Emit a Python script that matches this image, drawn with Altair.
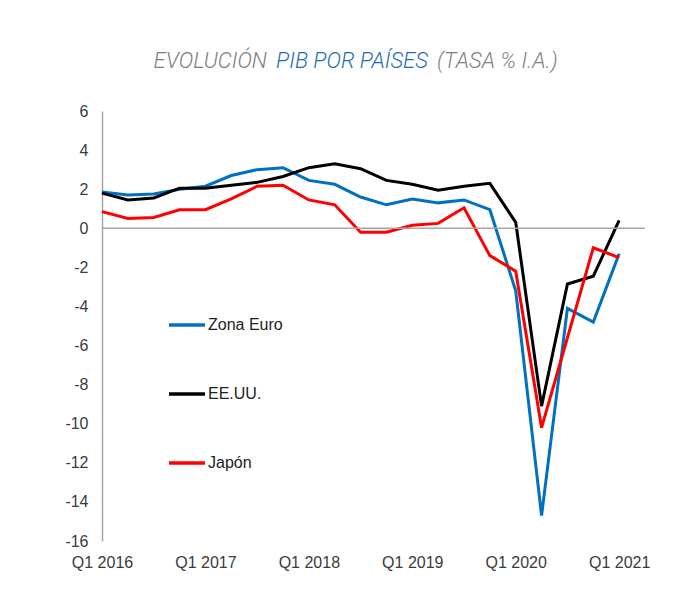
import altair as alt
import pandas as pd

# ---- data ----
tick_positions = [0, 4, 8, 12, 16, 20]
tick_labels = ["Q1 2016", "Q1 2017", "Q1 2018", "Q1 2019", "Q1 2020", "Q1 2021"]
y_ticks = [-16, -14, -12, -10, -8, -6, -4, -2, 0, 2, 4, 6]
quarter_index = list(range(21))  # Q1 2016 ... Q1 2021

series_names = ["Zona Euro", "EE.UU.", "Japón"]
series_colors = ["#0070C0", "#000000", "#FF0000"]

zona_euro = [1.85, 1.7, 1.75, 2.0, 2.15, 2.7, 3.0, 3.1, 2.45, 2.25, 1.6,
             1.2, 1.5, 1.3, 1.45, 0.95, -3.2, -14.7, -4.1, -4.8, -1.3]
eeuu = [1.8, 1.45, 1.55, 2.05, 2.05, 2.2, 2.35, 2.65, 3.1, 3.3, 3.05,
        2.45, 2.25, 1.95, 2.15, 2.3, 0.3, -9.1, -2.85, -2.45, 0.4]
japon = [0.85, 0.5, 0.55, 0.95, 0.95, 1.5, 2.15, 2.2, 1.45, 1.2, -0.2,
         -0.2, 0.15, 0.25, 1.05, -1.4, -2.2, -10.2, -5.6, -1.0, -1.5]

title_left = "EVOLUCIÓN"
title_mid = "PIB POR PAÍSES"
title_right = "(TASA % I.A.)"

rows = []
for name, vals in zip(series_names, [zona_euro, eeuu, japon]):
    for i, v in zip(quarter_index, vals):
        rows.append({"t": i, "v": v, "serie": name})
df = pd.DataFrame(rows)

label_expr = "[" + ",".join(f"'{s}'" for s in tick_labels) + "][datum.value/4]"

x_scale = alt.Scale(domain=[0, 21], nice=False, zero=False)
y_scale = alt.Scale(domain=[-16, 6], nice=False)

lines = alt.Chart(df).mark_line(strokeWidth=3, strokeJoin="miter").encode(
    x=alt.X("t:Q", scale=x_scale,
            axis=alt.Axis(values=tick_positions, tickCount=len(tick_positions),
                          labelExpr=label_expr, title=None,
                          domain=False, ticks=False, grid=False, labelPadding=13,
                          labelFlush=False)),
    y=alt.Y("v:Q", scale=y_scale,
            axis=alt.Axis(values=y_ticks, tickCount=len(y_ticks),
                          labelExpr="'' + datum.value",
                          title=None, grid=False,
                          ticks=False, domainColor="#a6a6a6", domainWidth=1.5,
                          labelPadding=14)),
    color=alt.Color("serie:N",
                    scale=alt.Scale(domain=series_names, range=series_colors),
                    legend=alt.Legend(orient="none", legendX=65, legendY=194,
                                      title=None, symbolType="stroke",
                                      symbolSize=1296, symbolStrokeWidth=3.5,
                                      labelFont="Liberation Sans", labelFontSize=16,
                                      labelColor="#222222", labelOffset=1,
                                      rowPadding=41, padding=0)),
    order=alt.Order("t:Q"),
)

zero_rule = alt.Chart(pd.DataFrame({"a": [0]})).mark_rule(
    color="#a6a6a6", strokeWidth=1.5
).encode(x=alt.datum(0), x2=alt.datum(21), y=alt.datum(0))

title_font = dict(font="Roboto", fontStyle="italic", fontWeight=300,
                  fontSize=22, baseline="middle")
t_left = alt.Chart(pd.DataFrame({"s": [title_left]})).mark_text(
    align="right", color="#808080", **title_font
).encode(x=alt.value(165), y=alt.value(-50), text="s:N")
t_mid = alt.Chart(pd.DataFrame({"s": [title_mid]})).mark_text(
    align="center", color="#1F6DB5", **title_font
).encode(x=alt.value(250), y=alt.value(-50), text="s:N")
t_right = alt.Chart(pd.DataFrame({"s": [title_right]})).mark_text(
    align="left", color="#808080", **title_font
).encode(x=alt.value(335), y=alt.value(-50), text="s:N")

chart = alt.layer(lines, zero_rule, t_left, t_mid, t_right).properties(
    width=543, height=430, autosize="none",
    padding={"left": 94, "top": 103, "right": 40, "bottom": 50},
    background="#ffffff",
).configure_view(stroke=None).configure_axis(
    labelOverlap=False, labelFont="Liberation Sans", labelFontSize=16,
    labelColor="#3b3b3b",
)

chart.save("out.html", embed_options={"renderer": "svg", "actions": False})
